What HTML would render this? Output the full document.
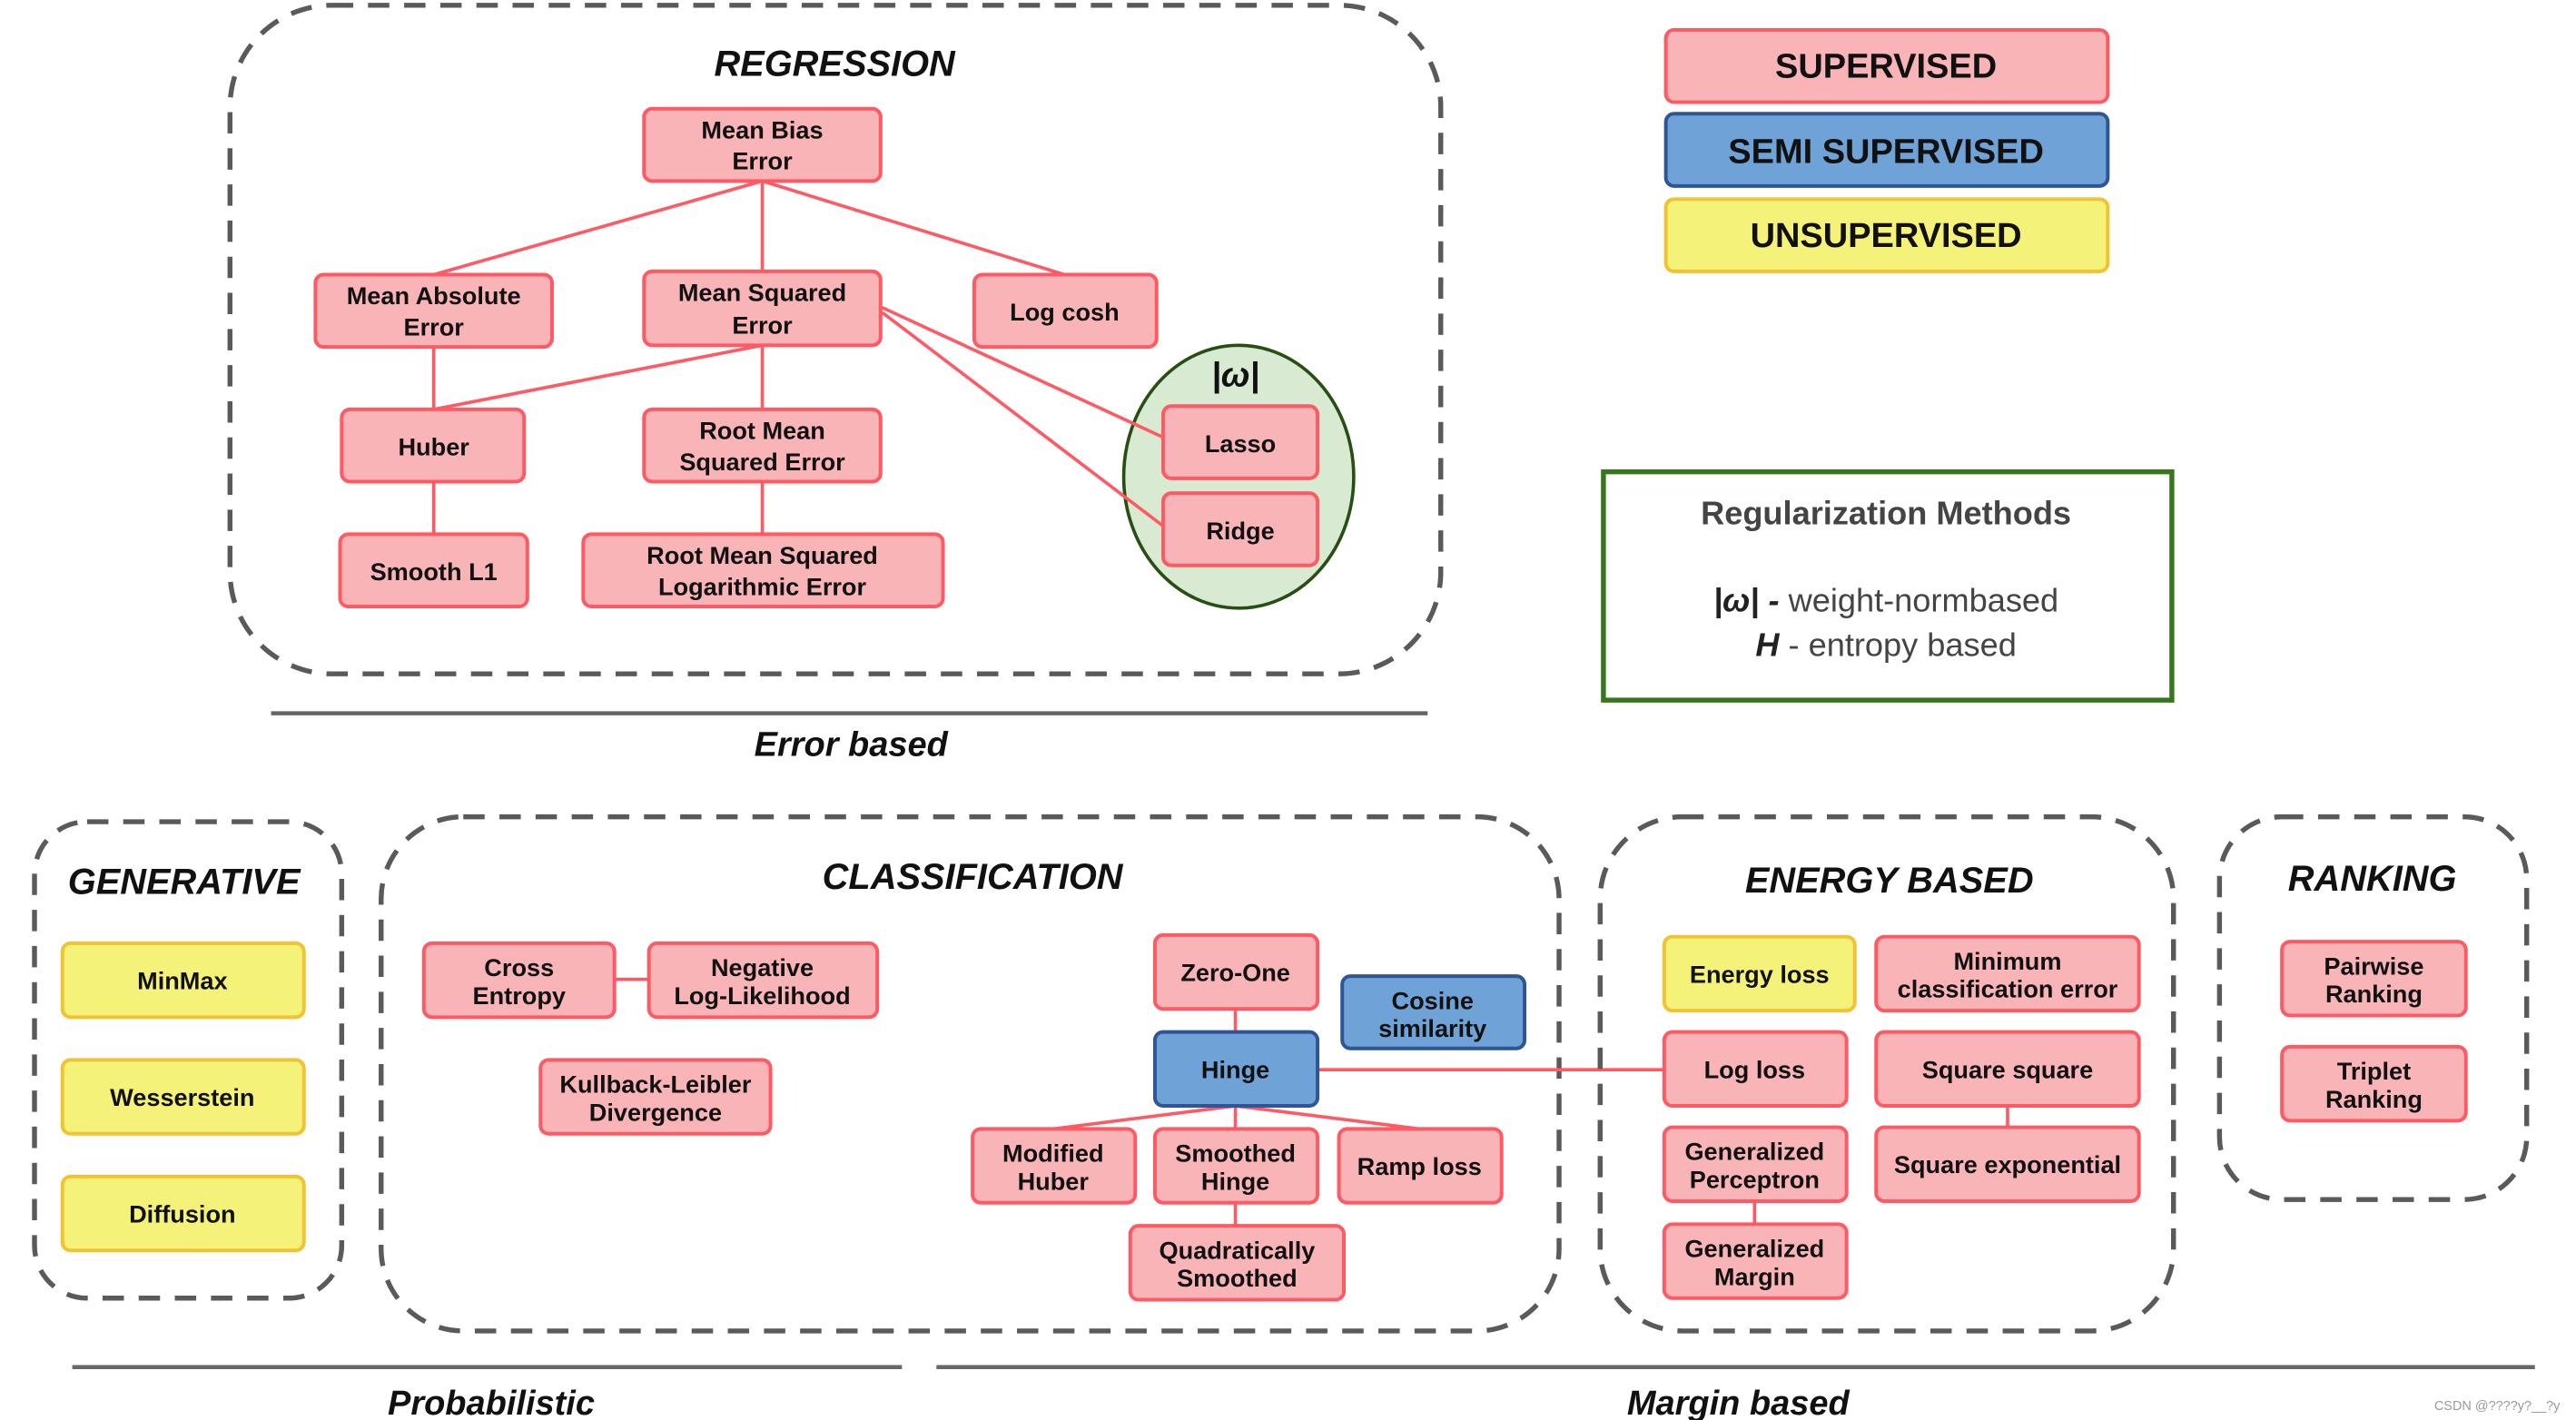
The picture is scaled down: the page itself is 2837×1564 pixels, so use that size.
<!DOCTYPE html>
<html><head><meta charset="utf-8"><style>
html,body{margin:0;padding:0;background:#fff;}
svg{display:block;}
text{font-family:"Liberation Sans",sans-serif;}
.b{fill:#f8b4b7;stroke:#ff5a64;stroke-width:2.2;}
.bl{fill:#6fa3d8;stroke:#2f5597;stroke-width:2.2;}
.y{fill:#f5f27a;stroke:#f1c232;stroke-width:2.2;}
.t{font-size:15px;font-weight:bold;fill:#111;text-anchor:middle;}
.h{font-size:22px;font-weight:bold;font-style:italic;fill:#111;text-anchor:middle;}
.d{fill:none;stroke:#5a5a5a;stroke-width:3;stroke-dasharray:13,9;}
.l{stroke:#ff5a64;stroke-width:2;fill:none;}
.u{stroke:#666;stroke-width:2.5;}
</style></head><body>
<svg width="2837" height="1564" viewBox="0 0 1568 864" xmlns="http://www.w3.org/2000/svg">
<rect width="1568" height="864" fill="#fff"/>
<!-- Regression -->
<rect class="d" x="140" y="3" width="737" height="407" rx="62"/>
<text class="h" x="508" y="46">REGRESSION</text>
<g class="l">
<line x1="464" y1="110" x2="264" y2="167"/><line x1="464" y1="110" x2="464" y2="165"/><line x1="464" y1="110" x2="648" y2="167"/>
<line x1="264" y1="211" x2="264" y2="249"/><line x1="464" y1="210" x2="264" y2="249"/><line x1="464" y1="210" x2="464" y2="249"/>
<line x1="464" y1="293" x2="464" y2="325"/><line x1="264" y1="293" x2="264" y2="325"/>
</g>
<ellipse cx="754" cy="290" rx="70" ry="80" fill="#d9ead3" stroke="#274e13" stroke-width="2"/>
<g class="l"><line x1="537" y1="187" x2="708" y2="266"/><line x1="537" y1="190" x2="708" y2="320"/></g>
<text x="752" y="235" style="font-size:21px;font-weight:bold;font-style:italic;text-anchor:middle;fill:#111">|ω|</text>
<rect class="b" x="392" y="66" width="144" height="44" rx="5"/><text class="t" x="464" y="84">Mean Bias</text><text class="t" x="464" y="103">Error</text>
<rect class="b" x="192" y="167" width="144" height="44" rx="5"/><text class="t" x="264" y="185">Mean Absolute</text><text class="t" x="264" y="204">Error</text>
<rect class="b" x="392" y="165" width="144" height="45" rx="5"/><text class="t" x="464" y="183">Mean Squared</text><text class="t" x="464" y="203">Error</text>
<rect class="b" x="593" y="167" width="111" height="44" rx="5"/><text class="t" x="648" y="195">Log cosh</text>
<rect class="b" x="208" y="249" width="111" height="44" rx="5"/><text class="t" x="264" y="277">Huber</text>
<rect class="b" x="392" y="249" width="144" height="44" rx="5"/><text class="t" x="464" y="267">Root Mean</text><text class="t" x="464" y="286">Squared Error</text>
<rect class="b" x="207" y="325" width="114" height="44" rx="5"/><text class="t" x="264" y="353">Smooth L1</text>
<rect class="b" x="355" y="325" width="219" height="44" rx="5"/><text class="t" x="464" y="343">Root Mean Squared</text><text class="t" x="464" y="362">Logarithmic Error</text>
<rect class="b" x="708" y="247" width="94" height="44" rx="5"/><text class="t" x="755" y="275">Lasso</text>
<rect class="b" x="708" y="300" width="94" height="44" rx="5"/><text class="t" x="755" y="328">Ridge</text>
<line class="u" x1="165" y1="434" x2="869" y2="434"/>
<text class="h" x="518" y="460" style="font-size:21px">Error based</text>
<!-- Legend -->
<rect class="b" x="1014" y="18" width="269" height="44" rx="5"/><text class="t" x="1148" y="47" style="font-size:21px">SUPERVISED</text>
<rect class="bl" x="1014" y="69" width="269" height="44" rx="5"/><text class="t" x="1148" y="99" style="font-size:21px">SEMI SUPERVISED</text>
<rect class="y" x="1014" y="121" width="269" height="44" rx="5"/><text class="t" x="1148" y="150" style="font-size:21px">UNSUPERVISED</text>
<rect x="976" y="287" width="346" height="139" fill="#fff" stroke="#38761d" stroke-width="3"/>
<text x="1148" y="319" style="font-size:20px;font-weight:bold;fill:#444;text-anchor:middle">Regularization Methods</text>
<text x="1148" y="372" style="font-size:20px;fill:#444;text-anchor:middle"><tspan font-weight="bold" font-style="italic" fill="#222">|ω| -</tspan> weight-normbased</text>
<text x="1148" y="399" style="font-size:20px;fill:#444;text-anchor:middle"><tspan font-weight="bold" font-style="italic" fill="#222">H</tspan> - entropy based</text>
<!-- Generative -->
<rect class="d" x="21" y="500" width="187" height="290" rx="32"/>
<text class="h" x="112" y="544">GENERATIVE</text>
<rect class="y" x="38" y="574" width="147" height="45" rx="5"/><text class="t" x="111" y="602">MinMax</text>
<rect class="y" x="38" y="645" width="147" height="45" rx="5"/><text class="t" x="111" y="673">Wesserstein</text>
<rect class="y" x="38" y="716" width="147" height="45" rx="5"/><text class="t" x="111" y="744">Diffusion</text>
<!-- Classification -->
<rect class="d" x="232" y="497" width="717" height="313" rx="50"/>
<text class="h" x="592" y="541">CLASSIFICATION</text>
<g class="l">
<line x1="374" y1="596" x2="395" y2="596"/>
<line x1="752" y1="614" x2="752" y2="628"/>
<line x1="752" y1="673" x2="641" y2="687"/><line x1="752" y1="673" x2="752" y2="687"/><line x1="752" y1="673" x2="864" y2="687"/>
<line x1="752" y1="732" x2="752" y2="746"/>
<line x1="802" y1="651" x2="1013" y2="651"/>
</g>
<rect class="b" x="258" y="574" width="116" height="45" rx="5"/><text class="t" x="316" y="594">Cross</text><text class="t" x="316" y="611">Entropy</text>
<rect class="b" x="395" y="574" width="139" height="45" rx="5"/><text class="t" x="464" y="594">Negative</text><text class="t" x="464" y="611">Log-Likelihood</text>
<rect class="b" x="329" y="645" width="140" height="45" rx="5"/><text class="t" x="399" y="665">Kullback-Leibler</text><text class="t" x="399" y="682">Divergence</text>
<rect class="b" x="703" y="569" width="99" height="45" rx="5"/><text class="t" x="752" y="597">Zero-One</text>
<rect class="bl" x="817" y="594" width="111" height="44" rx="5"/><text class="t" x="872" y="614">Cosine</text><text class="t" x="872" y="631">similarity</text>
<rect class="bl" x="703" y="628" width="99" height="45" rx="5"/><text class="t" x="752" y="656">Hinge</text>
<rect class="b" x="592" y="687" width="99" height="45" rx="5"/><text class="t" x="641" y="707">Modified</text><text class="t" x="641" y="724">Huber</text>
<rect class="b" x="703" y="687" width="99" height="45" rx="5"/><text class="t" x="752" y="707">Smoothed</text><text class="t" x="752" y="724">Hinge</text>
<rect class="b" x="815" y="687" width="99" height="45" rx="5"/><text class="t" x="864" y="715">Ramp loss</text>
<rect class="b" x="688" y="746" width="130" height="45" rx="5"/><text class="t" x="753" y="766">Quadratically</text><text class="t" x="753" y="783">Smoothed</text>
<!-- Energy -->
<rect class="d" x="974" y="497" width="349" height="313" rx="50"/>
<text class="h" x="1150" y="543">ENERGY BASED</text>
<g class="l"><line x1="1222" y1="673" x2="1222" y2="686"/><line x1="1068" y1="731" x2="1068" y2="745"/></g>
<rect class="y" x="1013" y="570" width="116" height="45" rx="5"/><text class="t" x="1071" y="598">Energy loss</text>
<rect class="b" x="1142" y="570" width="160" height="45" rx="5"/><text class="t" x="1222" y="590">Minimum</text><text class="t" x="1222" y="607">classification error</text>
<rect class="b" x="1013" y="628" width="111" height="45" rx="5"/><text class="t" x="1068" y="656">Log loss</text>
<rect class="b" x="1142" y="628" width="160" height="45" rx="5"/><text class="t" x="1222" y="656">Square square</text>
<rect class="b" x="1013" y="686" width="111" height="45" rx="5"/><text class="t" x="1068" y="706">Generalized</text><text class="t" x="1068" y="723">Perceptron</text>
<rect class="b" x="1142" y="686" width="160" height="45" rx="5"/><text class="t" x="1222" y="714">Square exponential</text>
<rect class="b" x="1013" y="745" width="111" height="45" rx="5"/><text class="t" x="1068" y="765">Generalized</text><text class="t" x="1068" y="782">Margin</text>
<!-- Ranking -->
<rect class="d" x="1351" y="497" width="187" height="233" rx="38"/>
<text class="h" x="1444" y="542">RANKING</text>
<rect class="b" x="1389" y="573" width="112" height="45" rx="5"/><text class="t" x="1445" y="593">Pairwise</text><text class="t" x="1445" y="610">Ranking</text>
<rect class="b" x="1389" y="637" width="112" height="45" rx="5"/><text class="t" x="1445" y="657">Triplet</text><text class="t" x="1445" y="674">Ranking</text>
<!-- bottom -->
<line class="u" x1="44" y1="832" x2="549" y2="832"/>
<line class="u" x1="570" y1="832" x2="1543" y2="832"/>
<text class="h" x="299" y="861" style="font-size:21px">Probabilistic</text>
<text class="h" x="1058" y="861" style="font-size:21px">Margin based</text>
<text x="1520" y="858" style="font-size:8px;fill:#999;text-anchor:middle">CSDN @????y?__?y</text>
</svg>
</body></html>
